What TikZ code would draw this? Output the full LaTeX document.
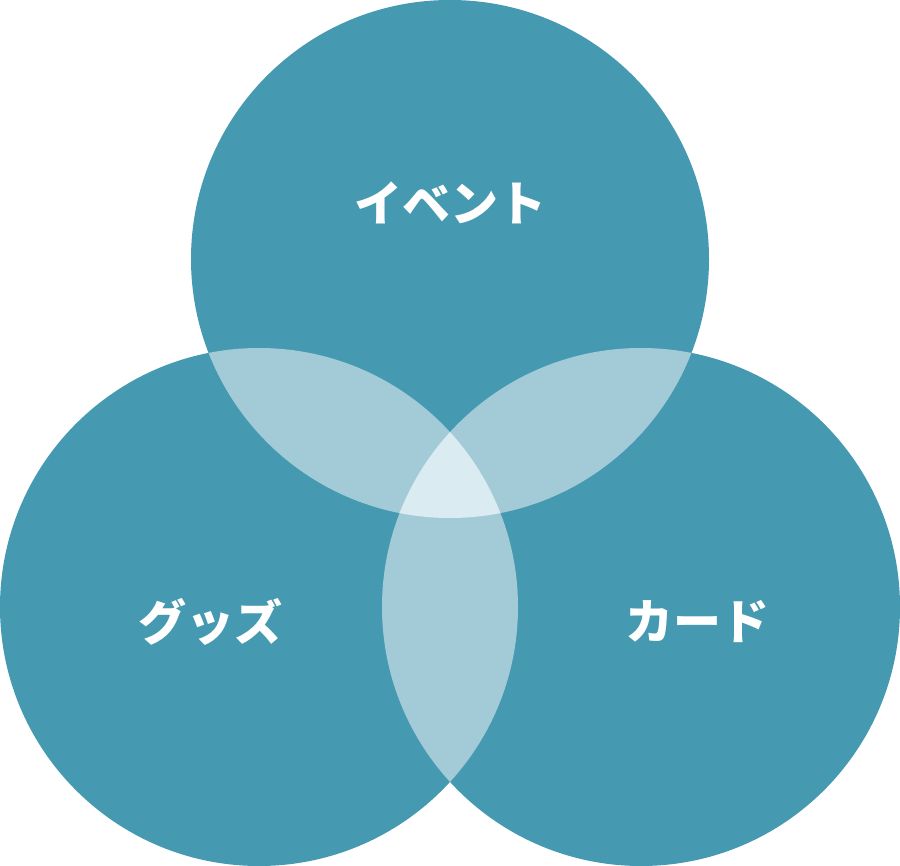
\documentclass[tikz,border=0pt]{standalone}
\usepackage{fontspec}
\newfontfamily\cjk{Noto Sans CJK JP}
\usepackage{tikz}

\definecolor{vennteal}{HTML}{4599B0}
\definecolor{vennlens}{HTML}{A3CBD7}
\definecolor{venncore}{HTML}{DAECF1}

\tikzset{
  setlabel/.style={text=white, inner sep=0pt, font=\cjk\bfseries\fontsize{48}{48}\selectfont}
}

\begin{document}
\begin{tikzpicture}[x=1pt,y=-1pt]
\useasboundingbox (0,0) rectangle (900,866);
\coordinate (T) at (450,259);
\coordinate (L) at (259,607);
\coordinate (R) at (641,607);

\fill[vennteal] (T) circle (259pt);
\fill[vennteal] (L) circle (259pt);
\fill[vennteal] (R) circle (259pt);

% pairwise overlaps
\begin{scope}
\clip (T) circle (259pt);
\fill[vennlens] (L) circle (259pt);
\fill[vennlens] (R) circle (259pt);
\end{scope}
\begin{scope}
\clip (L) circle (259pt);
\fill[vennlens] (R) circle (259pt);
\end{scope}

% all three
\begin{scope}
\clip (T) circle (259pt);
\clip (L) circle (259pt);
\fill[venncore] (R) circle (259pt);
\end{scope}

\node[setlabel] (event) at (450,203) {イベント};
\node[setlabel] (goods) at (210,622) {グッズ};
\node[setlabel] (card)  at (697,622) {カード};
\end{tikzpicture}
\end{document}
